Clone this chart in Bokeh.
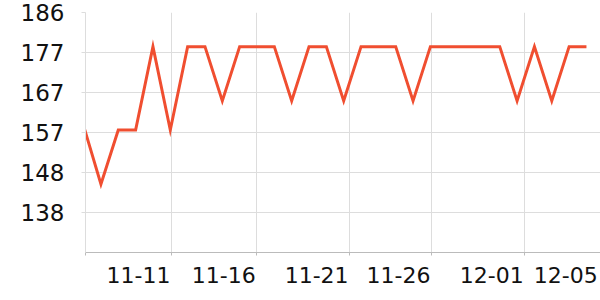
import pandas as pd
from bokeh.plotting import figure
from bokeh.models import Range1d, FixedTicker, CustomJSTickFormatter, PrintfTickFormatter
from bokeh.embed import file_html
from bokeh.resources import INLINE

# ---- data ----
dates = pd.date_range("2023-11-06", periods=30, freq="D")
values = [159, 145, 158, 158, 178, 158, 178, 178, 165, 178,
          178, 178, 165, 178, 178, 165, 178, 178, 178, 165,
          178, 178, 178, 178, 178, 165, 178, 165, 178, 178]
y_ticks = [138.2, 147.8, 157.4, 167.0, 176.6, 186.2]
y_min = 128.6
x_labels = ["11-11", "11-16", "11-21", "11-26", "12-01", "12-05"]

# ---- layout helpers (tick placement, in days from the first date) ----
DAY = 86400000
base = int(dates[0].value // 10**6)
grid_days = [5.07, 9.98, 15.34, 20.06, 25.44, 29.71]
half_label_days = 1.9
range_days = (0.11, 29.81)

def ms(d):
    return int(base + d * DAY)

grid_pos = [ms(d) for d in grid_days[:-1]]
label_pos = [ms(d - half_label_days) for d in grid_days]

p = figure(width=600, height=300, x_axis_type="datetime",
           output_backend="svg", toolbar_location=None,
           x_range=Range1d(ms(range_days[0]), ms(range_days[1])),
           y_range=Range1d(y_min, y_ticks[-1]),
           min_border_left=85, min_border_right=0,
           min_border_top=12, min_border_bottom=48)
p.outline_line_color = None
p.background_fill_color = "white"
p.border_fill_color = "white"

p.line(dates, values, line_color="#f04e30", line_width=3, line_join="miter")

FONT = "DejaVu Sans"

# y axis
yax = p.yaxis[0]
yax.ticker = FixedTicker(ticks=y_ticks)
yax.formatter = PrintfTickFormatter(format="%.0f")
yax.axis_line_color = "#dddddd"
yax.major_tick_line_color = "#dddddd"
yax.major_tick_out = 4
yax.major_tick_in = 0
yax.minor_tick_line_color = None
yax.major_label_standoff = 17
yax.major_label_text_font = FONT
yax.major_label_text_font_size = "23px"
yax.major_label_text_color = "#111111"

# x axis
xax = p.xaxis[0]
xax.ticker = FixedTicker(ticks=label_pos, minor_ticks=[ms(range_days[0])] + grid_pos)
xax.formatter = CustomJSTickFormatter(args=dict(labels=x_labels), code="return labels[index]")
xax.axis_line_color = "#bbbbbb"
xax.major_tick_line_color = None
xax.major_tick_out = 0
xax.major_tick_in = 0
xax.minor_tick_line_color = "#bbbbbb"
xax.minor_tick_out = 3
xax.minor_tick_in = 0
xax.major_label_standoff = 11
xax.major_label_text_font = FONT
xax.major_label_text_font_size = "22px"
xax.major_label_text_color = "#111111"

# grids
p.xgrid.ticker = FixedTicker(ticks=grid_pos)
p.xgrid.grid_line_color = "#dddddd"
p.ygrid.ticker = FixedTicker(ticks=y_ticks)
p.ygrid.grid_line_color = "#dddddd"

open("out.html", "w").write(file_html(p, INLINE))
